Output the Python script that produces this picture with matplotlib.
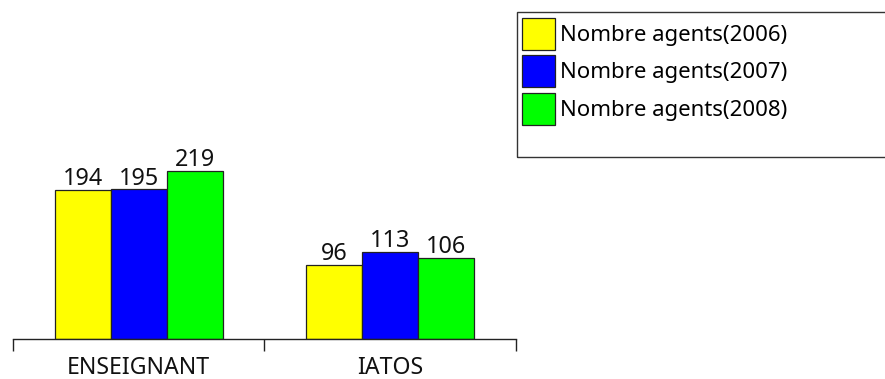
import matplotlib
matplotlib.use("Agg")
import matplotlib.pyplot as plt
from matplotlib.patches import Rectangle
from matplotlib.ticker import FixedLocator

plt.rcParams['font.family'] = ['Noto Sans', 'DejaVu Sans']

categories = ['ENSEIGNANT', 'IATOS']
series_names = ['Nombre agents(2006)', 'Nombre agents(2007)', 'Nombre agents(2008)']
agents_2006 = [194, 96]
agents_2007 = [195, 113]
agents_2008 = [219, 106]
colors = ['#FFFF00', '#0000FF', '#00FF00']

W, H = 885, 379
fig = plt.figure(figsize=(W / 100, H / 100), dpi=100)
ax = fig.add_axes([13 / W, 40 / H, 503 / W, 200 / H])

bar_w = 0.2227
handles = []
for j, vals in enumerate([agents_2006, agents_2007, agents_2008]):
    xs = [i + (j - 1) * bar_w for i in range(len(categories))]
    bars = ax.bar(xs, vals, width=bar_w, color=colors[j], edgecolor='#222222',
                  linewidth=0.9, label=series_names[j], zorder=2)
    handles.append(bars)
    for x, v in zip(xs, vals):
        ax.annotate(str(v), (x, v), xytext=(0, 3.5), textcoords='offset points',
                    ha='center', va='baseline', fontsize=16.8, color='#111111')

ax.set_xlim(-0.5, 1.5)
ax.set_ylim(0, 260.7)
for s in ['top', 'left', 'right']:
    ax.spines[s].set_visible(False)
ax.spines['bottom'].set_color('#222222')
ax.spines['bottom'].set_linewidth(1)
ax.set_yticks([])

# group separators as major ticks, category names on minor ticks
ax.xaxis.set_major_locator(FixedLocator([-0.5, 0.5, 1.5]))
ax.xaxis.set_minor_locator(FixedLocator([0, 1]))
ax.set_xticklabels([], minor=False)
ax.set_xticklabels(categories, minor=True, fontsize=16.6, color='#111111')
ax.tick_params(axis='x', which='major', direction='out', length=8.6, width=1, color='#222222')
ax.tick_params(axis='x', which='minor', length=0, pad=12.5)

# legend box
fig.add_artist(Rectangle((516.5 / W, (H - 156.7) / H), 400 / W, 144.4 / H,
                         transform=fig.transFigure, fill=False,
                         edgecolor='#333333', linewidth=1))
fig.legend(handles=handles, labels=series_names, loc='upper left',
           bbox_to_anchor=(522 / W, 1 - 17.7 / H), frameon=False,
           fontsize=16, borderpad=0, borderaxespad=0,
           handlelength=1.49, handleheight=1.84, handletextpad=0.23,
           labelspacing=0.25)

fig.savefig('out.png', dpi=100)
